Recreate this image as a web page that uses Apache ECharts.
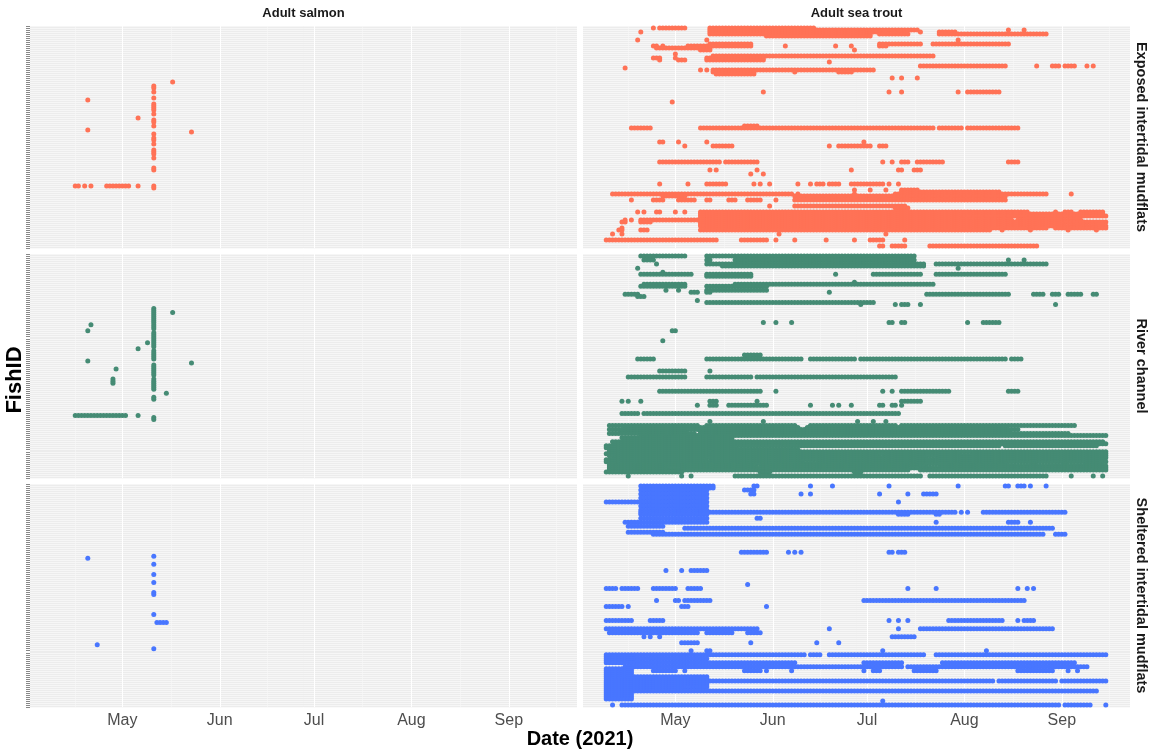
<!DOCTYPE html>
<html>
<head>
<meta charset="utf-8">
<script src="https://cdn.jsdelivr.net/npm/echarts@6/dist/echarts.min.js"></script>
<style>
html,body{margin:0;padding:0;background:#ffffff;}
#chart{width:1154px;height:753px;}
</style>
</head>
<body>
<div id="chart"></div>
<script>
// Month breaks on the date axis (day of year, 2021)
const monthLabels = ['May', 'Jun', 'Jul', 'Aug', 'Sep'];
const monthDays = [121, 152, 182, 213, 244];
const minorDays = [106, 136.5, 167, 197.5, 228.5, 259];

const speciesLabels = ['Adult salmon', 'Adult sea trout'];
const habitatLabels = ['Exposed intertidal mudflats', 'River channel', 'Sheltered intertidal mudflats'];
const habitatColors = ['#FF7256', '#458B74', '#4876FF'];
const fishCount = 110;

// Detections: [fish row, first day, last day] -- each entry is a run of consecutive daily detections
const salmonExposed = [
  [28,137,137],[37,110,110],[46,126,126],[52,110,110],[53,143,143],
  [80,106,107],[80,109,109],[80,111,111],[80,116,123],[80,126,126],
  [30,131,131],[31,131,131],[33,131,131],[36,131,131],[39,131,131],[40,131,131],[41,131,131],[42,131,131],
  [44,131,131],[47,131,131],[48,131,131],[50,131,131],[54,131,131],[56,131,131],[57,131,131],[59,131,131],
  [62,131,131],[63,131,131],[64,131,131],[66,131,131],[71,131,131],[72,131,131],[80,131,131],[81,131,131]
];

const salmonRiver = [
  [35,111,111],[38,110,110],[53,110,110],[57,119,119],[62,118,118],[63,118,118],[64,118,118],
  [47,126,126],[44,129,129],[29,137,137],[54,143,143],[69,135,135],
  [80,106,122],[80,126,126],
  [27,131,131],[28,131,131],[29,131,131],[30,131,131],[31,131,131],[32,131,131],[33,131,131],[34,131,131],
  [35,131,131],[36,131,131],[37,131,131],[39,131,131],[40,131,131],[41,131,131],[42,131,131],[43,131,131],
  [44,131,131],[45,131,131],[46,131,131],[48,131,131],[49,131,131],[50,131,131],[51,131,131],[52,131,131],
  [55,131,131],[56,131,131],[57,131,131],[58,131,131],[59,131,131],[60,131,131],[62,131,131],[63,131,131],
  [64,131,131],[65,131,131],[66,131,131],[67,131,131],[71,131,131],[72,131,131],[81,131,131],[82,131,131]
];

const salmonSheltered = [
  [37,110,110],[80,113,113],[36,131,131],[40,131,131],[45,131,131],[49,131,131],
  [54,131,131],[55,131,131],[65,131,131],[82,131,131],[69,132,135]
];

const troutExposed = [
  [1,114,114],[1,116,124],[1,132,165],
  [2,132,194],[2,195,198],[2,227,227],[2,232,232],
  [3,110,110],[3,132,186],[3,199,199],[3,205,210],
  [4,132,183],[4,186,195],[4,205,239],
  [5,150,183],[7,109,109],[7,131,131],[7,211,211],
  [9,132,145],[9,186,199],[9,203,227],
  [10,114,115],[10,117,117],[10,125,131],[10,132,145],[10,156,156],[10,172,172],[10,177,177],[10,186,188],
  [11,115,128],[11,129,132],
  [12,129,132],[12,178,178],[14,121,121],
  [15,133,203],
  [16,114,116],[16,121,121],[16,131,149],[18,170,170],
  [17,116,116],[17,122,124],[17,131,149],
  [20,199,226],[20,236,236],[20,241,243],[20,245,248],[20,252,252],[20,254,254],[21,105,105],
  [22,129,129],[22,131,131],[22,133,184],
  [23,133,146],[23,159,159],[23,173,177],
  [24,134,146],
  [26,190,190],[26,193,193],[26,198,198],
  [33,149,149],[33,189,189],[33,193,193],[33,211,211],[33,214,224],
  [38,120,120],
  [50,143,147],
  [51,107,113],[51,129,203],[51,205,212],[51,214,230],
  [58,116,116],[58,117,117],[58,122,122],[58,131,131],[58,181,181],
  [60,124,124],[60,133,139],[60,170,170],[60,173,183],[60,186,188],
  [68,116,134],[68,135,135],[68,137,147],[68,187,187],[68,190,190],[68,193,195],[68,198,206],[68,227,230],
  [72,132,132],[72,134,134],[72,147,147],[72,177,177],[72,192,193],[72,197,199],
  [74,145,145],[74,149,149],
  [79,116,116],[79,125,125],[79,131,137],[79,146,146],[79,148,148],[79,151,151],[79,160,160],[79,164,164],
  [79,166,168],[79,170,173],[79,177,181],[79,182,187],[79,189,189],[79,192,192],
  [82,178,178],[82,183,183],[82,188,188],[82,193,198],
  [83,193,224],
  [84,101,158],[84,160,160],[84,178,178],[84,191,226],[84,227,239],[84,247,247],
  [85,117,124],[85,159,226],
  [87,107,107],[87,114,116],[87,117,117],[87,122,127],[87,131,132],[87,138,140],[87,144,148],[87,153,153],[87,159,226],
  [90,151,151],[90,159,194],[91,191,195],
  [93,109,109],[93,111,111],[93,115,116],[93,121,121],[93,124,124],[93,129,233],[93,242,242],[93,245,247],[93,250,254],[93,255,257],
  [94,129,257],[95,129,258],[96,129,211],
  [97,105,105],[97,107,107],[97,110,132],[97,129,228],[97,230,250],
  [98,104,105],[98,110,113],[98,129,258],[99,129,244],
  [100,129,227],[100,227,258],
  [101,104,104],[101,131,239],[101,242,258],
  [102,103,104],[102,110,112],[102,129,221],[102,225,225],[102,234,234],[102,246,246],[102,255,255],
  [104,101,101],[104,104,104],[104,154,154],[104,188,188],
  [107,99,125],[107,126,127],[107,128,134],[107,142,150],[107,153,153],[107,159,159],[107,169,169],[107,178,178],[107,183,187],[107,194,194],
  [110,186,187],[110,190,194],[110,202,236]
];

const troutRiver = [
  [1,110,124],[1,131,197],
  [3,111,114],[3,131,132],[3,140,197],[3,227,227],[3,232,232],
  [5,115,115],[5,131,200],[6,136,200],[5,204,239],[7,109,109],[7,211,211],
  [9,117,117],
  [10,110,126],[10,131,145],[10,172,172],[10,184,199],[10,204,225],[10,226,226],
  [11,131,145],[14,178,178],
  [15,111,124],[15,140,203],
  [16,110,124],[16,131,150],
  [18,118,118],[18,122,122],[18,131,150],
  [19,126,128],[19,131,132],[19,170,170],
  [20,105,109],[20,201,227],[20,235,237],[20,238,238],[20,241,243],[20,246,250],[20,254,255],
  [21,109,111],
  [23,128,128],[24,131,184],
  [25,180,180],[25,191,191],[25,193,195],[25,199,199],[25,242,242],
  [34,149,149],[34,153,153],[34,158,158],[34,189,190],[34,193,194],[34,214,214],[34,219,219],[34,220,224],
  [38,120,121],[43,117,117],
  [50,143,148],
  [52,109,114],[52,131,150],[52,151,161],[52,164,178],[52,180,188],[52,189,198],[52,199,226],[52,228,231],
  [58,116,124],[58,132,132],
  [61,106,114],[61,115,124],[61,131,142],[61,143,145],[61,147,150],[61,151,159],[61,160,191],
  [68,116,135],[68,136,148],[68,153,153],[68,187,187],[68,190,190],[68,193,197],[68,198,208],[68,227,230],
  [73,104,104],[73,106,106],[73,110,110],[73,132,134],[73,147,147],[73,193,199],
  [75,128,128],[75,132,134],[75,138,150],[75,164,164],[75,171,171],[75,173,173],[75,177,177],[75,186,187],[75,190,191],[75,193,193],
  [79,104,109],[79,111,113],[79,114,125],[79,126,156],[79,157,192],
  [83,132,132],[83,149,149],[83,179,179],[83,184,184],[83,188,188],
  [85,100,128],[85,131,159],[85,164,177],[85,178,191],[85,193,231],[85,232,248],
  [86,105,160],[86,163,226],[87,100,230],[88,104,124],[88,129,227],[89,100,127],[89,129,246],
  [90,110,258],[91,104,139],[92,105,139],[93,101,257],[94,102,187],[94,194,258],
  [95,99,224],[95,226,255],[96,99,140],[97,100,160],[98,100,132],[98,134,258],[99,99,211],[99,216,258],
  [100,100,185],[100,188,258],[101,102,200],[101,205,258],[102,99,130],[102,133,257],[103,99,161],[103,167,258],
  [104,100,226],[104,235,235],[104,245,245],[104,252,256],
  [105,100,146],[105,149,200],[105,206,258],[106,100,198],[106,201,258],[107,100,118],[107,123,195],[107,199,258],
  [108,99,123],[108,148,151],[108,178,180],
  [110,106,106],[110,123,123],[110,126,126],[110,140,199],[110,202,239],[110,247,247],[110,254,254],[110,257,257]
];

const troutSheltered = [
  [1,110,133],[1,146,147],[1,164,164],[1,171,171],[1,189,189],[1,211,211],[1,226,227],[1,230,232],[1,234,234],[1,239,239],
  [2,111,133],[3,110,131],[3,143,146],
  [5,110,131],[5,145,146],[5,161,161],[5,164,164],[5,186,186],[5,195,195],[5,200,204],
  [7,110,131],
  [9,99,131],[9,192,192],
  [11,110,131],[13,110,131],
  [14,110,210],[14,212,212],[14,214,214],[14,219,245],
  [15,110,131],[15,192,195],[15,204,205],
  [17,110,131],[17,147,148],
  [19,105,131],[19,204,204],[19,227,230],[19,234,234],
  [21,106,117],[22,124,241],[24,106,117],
  [25,114,238],[25,242,245],
  [34,142,150],[34,157,157],[34,159,159],[34,161,161],[34,189,190],[34,192,194],
  [43,118,118],[43,123,123],[43,126,131],
  [50,144,144],
  [52,99,102],[52,104,109],[52,114,121],[52,125,129],[52,195,195],[52,204,204],[52,230,230],[52,233,233],[52,235,235],
  [58,115,115],[58,121,122],[58,124,132],[58,181,232],
  [61,99,104],[61,106,106],[61,123,125],[61,150,150],
  [68,99,107],[68,113,117],[68,189,189],[68,192,192],[68,195,195],[68,208,225],[68,230,230],[68,232,235],
  [72,99,147],[72,170,170],[72,192,192],[72,199,241],
  [74,100,128],[74,131,139],[74,144,148],
  [76,111,111],[76,113,113],[76,116,116],[76,190,197],
  [79,123,128],[79,145,145],[79,166,166],[79,173,173],
  [83,126,126],[83,131,132],[83,187,187],[83,220,220],
  [85,99,162],[85,164,167],[85,170,187],[85,188,200],[85,204,227],[85,228,258],
  [86,99,107],[87,99,131],[88,99,107],[89,99,159],[89,181,193],[89,206,248],
  [91,105,193],[91,195,252],
  [92,99,107],[93,99,107],[93,114,121],[93,124,124],[93,143,148],[93,150,150],[93,158,158],[93,181,181],
  [93,184,186],[93,197,204],[93,230,241],[93,246,246],[93,249,249],
  [94,99,107],[95,99,107],
  [96,99,131],[97,99,131],[98,99,222],[98,224,242],[98,244,258],
  [99,99,131],[100,99,131],[101,99,131],[102,99,123],
  [103,99,105],[103,106,160],[103,161,192],[103,193,243],[103,244,255],
  [104,99,107],[105,99,107],[106,99,107],[107,99,107],
  [108,187,187],
  [110,101,101],[110,104,226],[110,227,243],[110,245,253],[110,258,258]
];

// panels: rows = habitat, columns = species
const panelRuns = [
  [salmonExposed, troutExposed],
  [salmonRiver, troutRiver],
  [salmonSheltered, troutSheltered]
];

function expandRuns(runs) {
  const pts = [];
  runs.forEach(function (r) {
    for (let d = r[1]; d <= r[2]; d++) pts.push([d, r[0]]);
  });
  return pts;
}

const colLeft = [30, 583];
const colWidth = 547;
const rowTop = [26, 254, 484];
const rowHeight = [222, 224, 223];
const xMin = 91.6, xMax = 265.7;
const baseFont = '"Liberation Sans", Arial, Helvetica, sans-serif';

const grids = [], xAxes = [], yAxes = [], series = [];
for (let r = 0; r < 3; r++) {
  for (let c = 0; c < 2; c++) {
    const g = grids.length;
    grids.push({
      left: colLeft[c], top: rowTop[r], width: colWidth, height: rowHeight[r],
      show: true, backgroundColor: '#ececec', borderWidth: 0, containLabel: false
    });
    const bottomRow = r === 2;
    xAxes.push({
      type: 'value', gridIndex: g, min: xMin, max: xMax,
      axisLine: { show: false },
      axisTick: { show: bottomRow, customValues: monthDays, length: 4, lineStyle: { color: '#333333', width: 1 } },
      axisLabel: {
        show: bottomRow, customValues: monthDays, margin: 6,
        color: '#4d4d4d', fontSize: 16, fontFamily: baseFont,
        formatter: function (v) { const i = monthDays.indexOf(v); return i >= 0 ? monthLabels[i] : ''; }
      },
      splitLine: { show: false }
    });
    yAxes.push({
      type: 'value', gridIndex: g, min: 0, max: fishCount + 1, interval: 1, inverse: true,
      axisLine: { show: false },
      axisTick: { show: c === 0, length: 4, lineStyle: { color: '#555555', width: 0.7 } },
      axisLabel: { show: false },
      splitLine: { show: true, lineStyle: { color: '#f9f9f9', width: 0.8 } }
    });
    // vertical date grid lines (bottom canvas layer)
    series.push({
      type: 'scatter', xAxisIndex: g, yAxisIndex: g, data: [], silent: true, z: 1, zlevel: 0,
      markLine: {
        silent: true, symbol: ['none', 'none'], animation: false,
        label: { show: false },
        emphasis: { disabled: true },
        data: monthDays.map(function (d) { return { xAxis: d, lineStyle: { color: '#ffffff', width: 1.1, type: 'solid' } }; })
          .concat(minorDays.filter(function (d) { return d < xMax; }).map(function (d) { return { xAxis: d, lineStyle: { color: '#f8f8f8', width: 0.6, type: 'solid' } }; }))
      }
    });
    // detections (upper canvas layer, above the grid lines)
    series.push({
      type: 'scatter', xAxisIndex: g, yAxisIndex: g, z: 3, zlevel: 1,
      symbol: 'circle', symbolSize: 5, silent: true, animation: false,
      itemStyle: { color: habitatColors[r], opacity: 1 },
      data: expandRuns(panelRuns[r][c])
    });
  }
}

const graphics = [];
speciesLabels.forEach(function (t, c) {
  graphics.push({
    type: 'text', x: colLeft[c] + colWidth / 2, y: 13, silent: true,
    style: { text: t, fill: '#1a1a1a', font: 'bold 13px ' + baseFont, textAlign: 'center', textVerticalAlign: 'middle' }
  });
});
habitatLabels.forEach(function (t, r) {
  graphics.push({
    type: 'text', x: 1141, y: rowTop[r] + rowHeight[r] / 2, rotation: -Math.PI / 2, silent: true,
    style: { text: t, fill: '#1a1a1a', font: 'bold 14.5px ' + baseFont, textAlign: 'center', textVerticalAlign: 'middle' }
  });
});
graphics.push({
  type: 'text', x: 15, y: 380, rotation: Math.PI / 2, silent: true,
  style: { text: 'FishID', fill: '#000000', font: 'bold 22px ' + baseFont, textAlign: 'center', textVerticalAlign: 'middle' }
});
graphics.push({
  type: 'text', x: 580, y: 739, silent: true,
  style: { text: 'Date (2021)', fill: '#000000', font: 'bold 20px ' + baseFont, textAlign: 'center', textVerticalAlign: 'middle' }
});

const chart = echarts.init(document.getElementById('chart'), null, { renderer: 'canvas' });
chart.setOption({
  animation: false,
  backgroundColor: '#ffffff',
  grid: grids,
  xAxis: xAxes,
  yAxis: yAxes,
  series: series,
  graphic: graphics
});
</script>
</body>
</html>
